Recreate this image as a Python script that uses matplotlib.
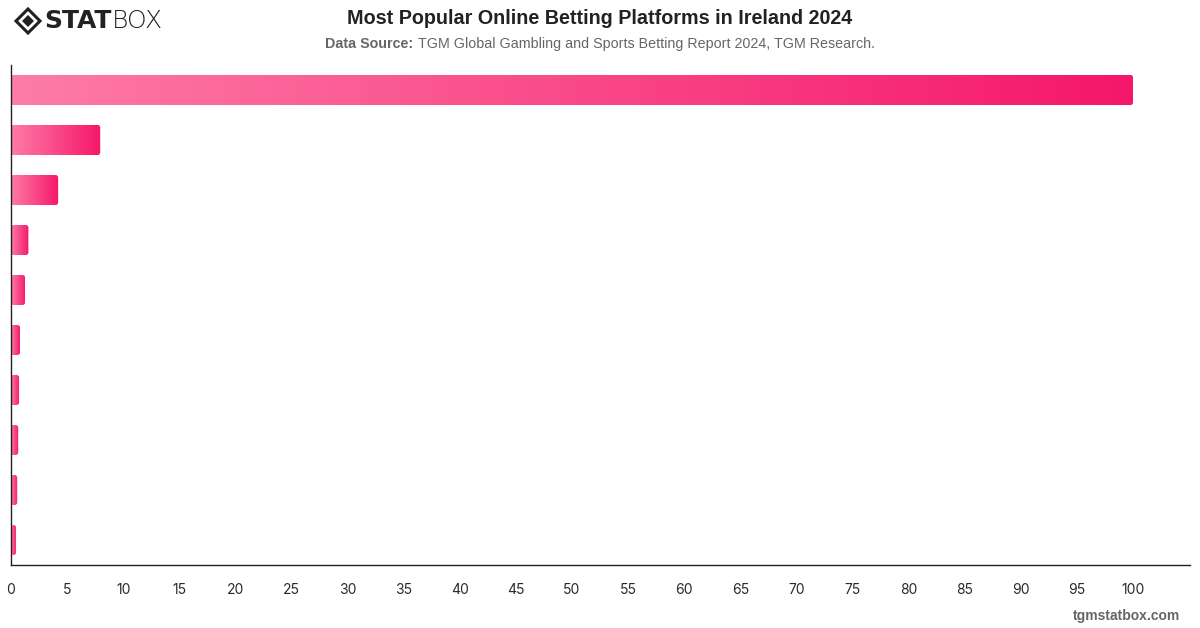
import numpy as np
import matplotlib.pyplot as plt
from matplotlib.colors import LinearSegmentedColormap
from matplotlib.patches import FancyBboxPatch, Polygon

plt.rcParams['font.family'] = ['Liberation Sans', 'DejaVu Sans']

# values (share, %), top to bottom
values = [100, 7.95, 4.2, 1.55, 1.25, 0.8, 0.72, 0.64, 0.55, 0.45]
ticks = list(range(0, 101, 5))

title = "Most Popular Online Betting Platforms in Ireland 2024"
source = "TGM Global Gambling and Sports Betting Report 2024, TGM Research."

fig = plt.figure(figsize=(12, 6.28), dpi=100)
ax = fig.add_axes([11 / 1200, 1 - 565 / 628, 1179 / 1200, 500 / 628])

xmax = 1179 / 11.22
ax.set_xlim(0, xmax)
ax.set_ylim(len(values) - 0.5, -0.5)

cmap = LinearSegmentedColormap.from_list("pink", ["#fe7ca7", "#f5176a"])
grad = np.linspace(0, 1, 256).reshape(1, -1)

px_x = xmax / 1179      # data units per pixel, x
px_y = 10 / 500         # data units per pixel, y
h = 0.6
for i, v in enumerate(values):
    r = min(2.5 * px_x, v / 2)
    patch = FancyBboxPatch((0, i - h / 2), v, h,
                           boxstyle=f"round,pad=0,rounding_size={r}",
                           mutation_aspect=px_y / px_x,
                           facecolor="none", edgecolor="none")
    ax.add_patch(patch)
    im = ax.imshow(grad, cmap=cmap, aspect="auto",
                   extent=[0, v, i + h / 2, i - h / 2], interpolation="bicubic")
    im.set_clip_path(patch)

ax.set_xlim(0, xmax)
ax.set_ylim(len(values) - 0.5, -0.5)

ax.set_xticks(ticks)
ax.set_xticklabels([str(t) for t in ticks], fontsize=10, color="#2a2a2a",
                   family=["Inter", "DejaVu Sans"])
ax.tick_params(axis="x", length=0, pad=13)
ax.set_yticks([])
for s in ["top", "right"]:
    ax.spines[s].set_visible(False)
for s in ["left", "bottom"]:
    ax.spines[s].set_color("#222222")
    ax.spines[s].set_linewidth(1)

# title and source
fig.text(0.5, 1 - 18 / 628, title, ha="center", va="center",
         fontsize=14.2, fontweight="bold", color="#222222")
t1 = fig.text(0.5, 1 - 44 / 628, "Data Source: ", ha="right", va="center",
              fontsize=10.3, fontweight="bold", color="#666666")
t2 = fig.text(0.5, 1 - 44 / 628, source, ha="left", va="center",
              fontsize=10.3, color="#666666")
# shift the two parts so they are centred together
fig.canvas.draw()
r = fig.canvas.get_renderer()
w1 = t1.get_window_extent(r).width
w2 = t2.get_window_extent(r).width
shift = (w1 - w2) / 2 / 1200
t1.set_x(0.5 + shift)
t2.set_x(0.5 + shift)

# footer
fig.text(1 - 20 / 1200, 1 - 616 / 628, "tgmstatbox.com", ha="right", va="center",
         fontsize=10, fontweight="bold", color="#666666")

# logo: diamond icon + STATBOX
lx, ly = 28 / 1200, 1 - 21 / 628
dx, dy = 12 / 1200, 12 / 628
outer = Polygon([[lx - dx, ly], [lx, ly + dy], [lx + dx, ly], [lx, ly - dy]],
                closed=True, transform=fig.transFigure, facecolor="none",
                edgecolor="#222222", linewidth=2.2)
inner = Polygon([[lx - dx * 0.5, ly], [lx, ly + dy * 0.5], [lx + dx * 0.5, ly], [lx, ly - dy * 0.5]],
                closed=True, transform=fig.transFigure, facecolor="#222222",
                edgecolor="none")
fig.add_artist(outer)
fig.add_artist(inner)
st = fig.text(44 / 1200, ly, "STAT", ha="left", va="center", fontsize=18,
              fontweight="heavy", color="#222222", family="DejaVu Sans")
fig.canvas.draw()
sw = st.get_window_extent(r).width
fig.text((44 + sw) / 1200, ly, "BOX", ha="left", va="center", fontsize=18,
         fontweight="light", color="#222222", family="DejaVu Sans")

fig.savefig("out.png", dpi=100)
